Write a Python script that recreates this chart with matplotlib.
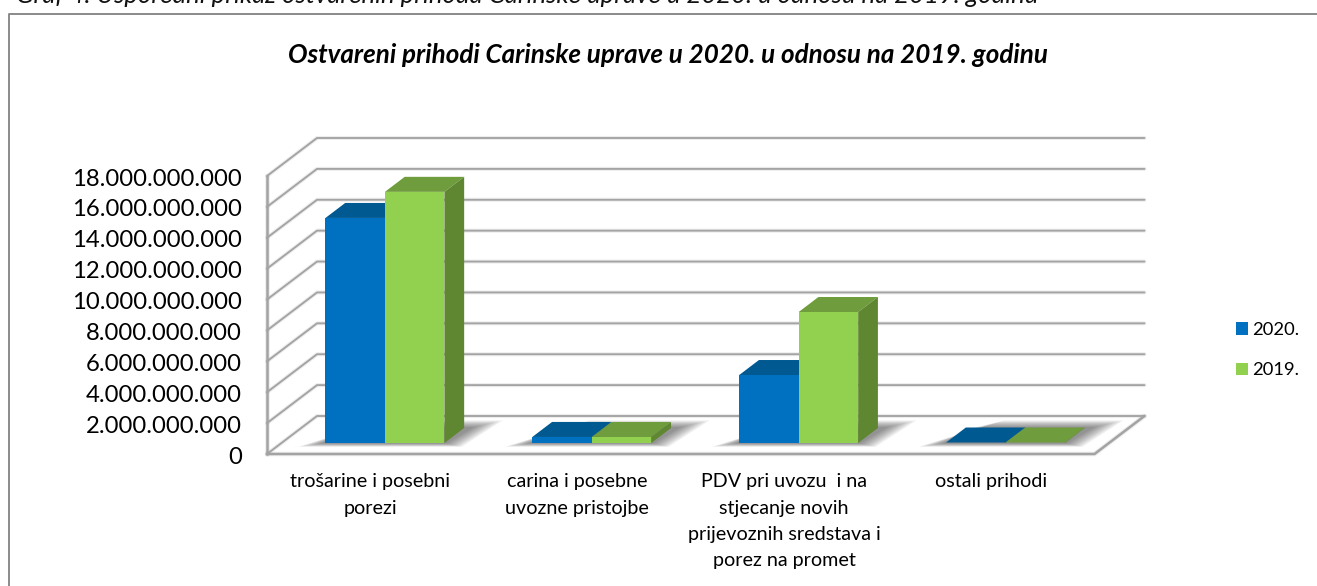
import matplotlib
matplotlib.use("Agg")
import matplotlib.pyplot as plt
from matplotlib.lines import Line2D
from matplotlib.patches import Patch, Polygon
from matplotlib.transforms import ScaledTranslation

plt.rcParams["font.family"] = ["Lato", "DejaVu Sans"]

categories = [
    "trošarine i posebni\nporezi",
    "carina i posebne\nuvozne pristojbe",
    "PDV pri uvozu  i na\nstjecanje novih\nprijevoznih sredstava i\nporez na promet",
    "ostali prihodi",
]
values_2020 = [14.57e9, 0.39e9, 4.40e9, 0.03e9]
values_2019 = [16.26e9, 0.39e9, 8.48e9, 0.03e9]
y_ticks = [i * 2e9 for i in range(10)]
y_labels = ["0", "2.000.000.000", "4.000.000.000", "6.000.000.000", "8.000.000.000",
            "10.000.000.000", "12.000.000.000", "14.000.000.000", "16.000.000.000",
            "18.000.000.000"]
title = "Ostvareni prihodi Carinske uprave u 2020. u odnosu na 2019. godinu"
caption = "Graf 4. Usporedni prikaz ostvarenih prihoda Carinske uprave u 2020. u odnosu na 2019. godinu"

W, H = 1317, 586
BAR_W = 0.2875
# oblique projection: how far one unit of depth moves a point, in data units
DX = 50 / 206.9
DY = 38 / 278 * 18e9
NEAR, FAR = 0.29, 0.685
GREY = "#a3a3a3"


def proj(x, v, d):
    return x + d * DX, v + d * DY


fig = plt.figure(figsize=(W / 100, H / 100), dpi=100, facecolor="white")
ax = fig.add_axes([267 / W, (H - 454) / H, 827.5 / W, 278 / H])
ax.set_xlim(0, 4)
ax.set_ylim(0, 18e9)
ax.patch.set_alpha(0)
for s in ax.spines.values():
    s.set_visible(False)


def line(pts, lw=1.35, color=GREY, z=1):
    xs, ys = zip(*pts)
    # soft shadow under each wall line, as in the Excel 3D style
    ax.plot(xs, ys, color="#000000", lw=lw + 1.6, alpha=0.07, clip_on=False, zorder=z,
            solid_capstyle="round")
    ax.plot(xs, ys, color=color, lw=lw, clip_on=False, zorder=z + 0.1, solid_capstyle="round")


# walls and floor
for v in y_ticks:
    line([(0, v), proj(0, v, 1), proj(4, v, 1)])
line([(0, 0), (0, 18e9)], lw=1.8)
line([(0, 0), (4, 0), proj(4, 0, 1)], lw=1.8)

# blurred shadows on the floor
for i in range(4):
    left = i + 0.5 - BAR_W
    right = i + 0.5 + BAR_W
    for k in range(9):
        g = 0.012 * (9 - k)
        dg = 0.022 * (9 - k)
        quad = [proj(left - g, 0, NEAR - dg * 0.5), proj(right + g, 0, NEAR - dg * 0.5),
                proj(right + g + 0.03, 0, FAR + dg), proj(left + g + 0.03, 0, FAR + dg)]
        ax.add_patch(Polygon(quad, closed=True, facecolor="#303030", edgecolor="none",
                             alpha=0.075, zorder=2, clip_on=False))


def bar3d(x, value, front, top, side, z):
    x0, y0 = proj(x, 0, NEAR)
    ax.bar(x0, value, BAR_W, bottom=y0, align="edge", color=front, edgecolor="none",
           zorder=z + 0.2, clip_on=False)
    top_quad = [proj(x, value, NEAR), proj(x + BAR_W, value, NEAR),
                proj(x + BAR_W, value, FAR), proj(x, value, FAR)]
    side_quad = [proj(x + BAR_W, 0, NEAR), proj(x + BAR_W, value, NEAR),
                 proj(x + BAR_W, value, FAR), proj(x + BAR_W, 0, FAR)]
    ax.add_patch(Polygon(top_quad, closed=True, facecolor=top, edgecolor="none", zorder=z, clip_on=False))
    ax.add_patch(Polygon(side_quad, closed=True, facecolor=side, edgecolor="none", zorder=z + 0.1, clip_on=False))


for i in range(4):
    bar3d(i + 0.5 - BAR_W, values_2020[i], "#0070c0", "#005990", "#00507f", 3)
    bar3d(i + 0.5, values_2019[i], "#92d050", "#6f9c3c", "#5f8630", 4)

ax.set_yticks(y_ticks, y_labels, fontsize=17.2, color="black")
ax.set_xticks([i + 0.5 for i in range(4)], categories, fontsize=14.2, color="black", linespacing=1.65)
ax.tick_params(axis="y", length=0, pad=18)
ax.tick_params(axis="x", length=0, pad=14)

# nudge the value labels down a pixel
nudge = ScaledTranslation(0, -1 / 100, fig.dpi_scale_trans)
for lab in ax.get_yticklabels():
    lab.set_transform(lab.get_transform() + nudge)

fig.text(668 / W, 1 - 55 / H, title, ha="center", va="center", fontsize=18.7,
         fontweight="bold", style="italic", color="black")
fig.text(16 / W, 1 - 3 / H, caption, ha="left", va="baseline", fontsize=18.5,
         style="italic", color="#111111")

# outer chart frame, running off the right and bottom of the picture
fig.add_artist(Line2D([9 / W, 9 / W, 1], [0, 1 - 13.5 / H, 1 - 13.5 / H], color="#8a8a8a", lw=1.4))

handles = [Patch(facecolor="#0070c0", label="2020."), Patch(facecolor="#92d050", label="2019.")]
fig.legend(handles=handles, loc="center left", bbox_to_anchor=(1236 / W, 1 - 350 / H), frameon=False,
           fontsize=13.2, handlelength=0.66, handleheight=0.7, handletextpad=0.2, labelspacing=1.36,
           borderpad=0, borderaxespad=0)

fig.savefig("out.png", dpi=100)
